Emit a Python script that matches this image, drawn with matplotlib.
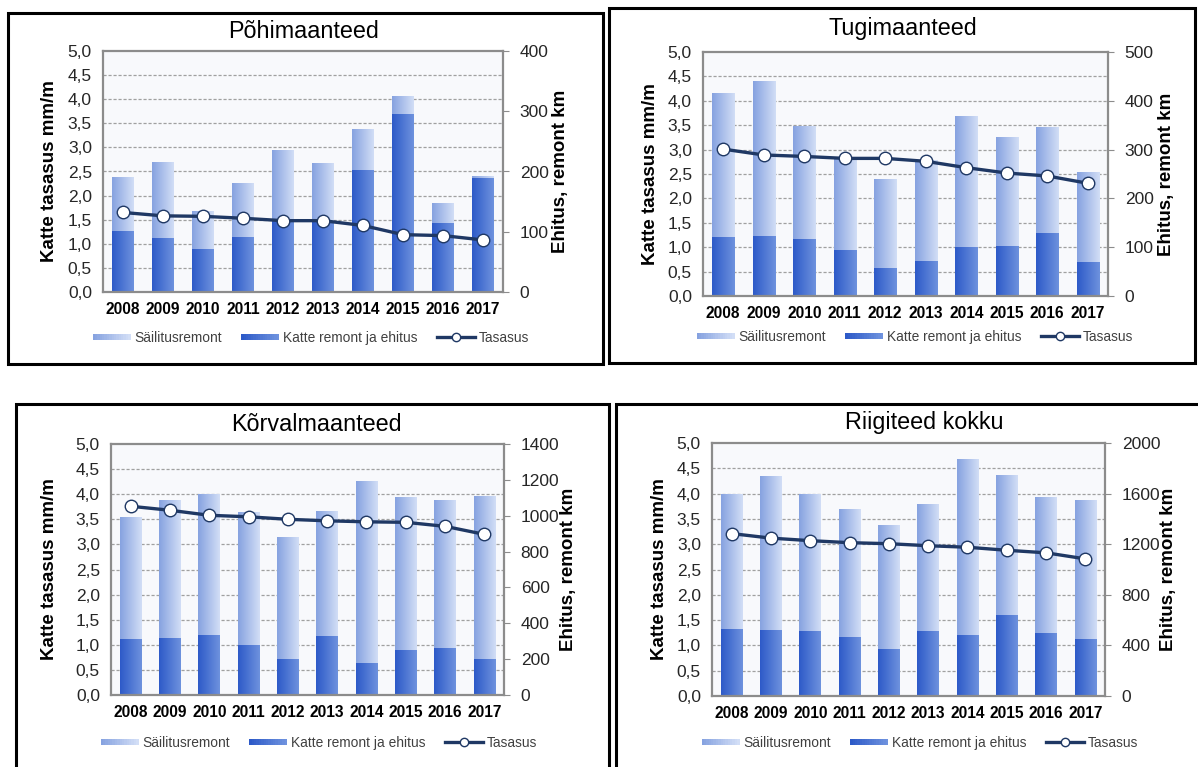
import numpy as np
import matplotlib
matplotlib.use("Agg")
import matplotlib.pyplot as plt
from matplotlib.patches import Rectangle
from matplotlib.lines import Line2D
from matplotlib.legend_handler import HandlerBase
from matplotlib.colors import to_rgb

plt.rcParams['font.family'] = ['Liberation Sans', 'DejaVu Sans']

# data
years = ['2008', '2009', '2010', '2011', '2012', '2013', '2014', '2015', '2016', '2017']

titles = ['Põhimaanteed', 'Tugimaanteed', 'Kõrvalmaanteed', 'Riigiteed kokku']

# Katte remont ja ehitus, km
katte_pohi = [102, 90, 71, 92, 120, 118, 203, 295, 114, 190]
katte_tugi = [120, 123, 117, 95, 57, 72, 100, 102, 129, 69]
katte_korval = [311, 319, 336, 280, 202, 330, 176, 249, 263, 199]
katte_kokku = [530, 522, 515, 467, 375, 517, 480, 644, 501, 451]

# Säilitusremont, km
sailitus_pohi = [89, 125, 63, 89, 115, 96, 68, 30, 33, 2]
sailitus_tugi = [297, 318, 232, 190, 183, 206, 268, 223, 217, 186]
sailitus_korval = [680, 770, 784, 742, 677, 698, 1020, 854, 826, 913]
sailitus_kokku = [1064, 1217, 1079, 1013, 976, 1000, 1393, 1100, 1074, 1100]

# Tasasus, mm/m
tasasus_pohi = [1.65, 1.58, 1.57, 1.53, 1.48, 1.48, 1.38, 1.19, 1.17, 1.08]
tasasus_tugi = [3.01, 2.89, 2.86, 2.82, 2.82, 2.76, 2.63, 2.52, 2.46, 2.31]
tasasus_korval = [3.76, 3.68, 3.58, 3.55, 3.50, 3.47, 3.45, 3.44, 3.36, 3.20]
tasasus_kokku = [3.21, 3.12, 3.07, 3.03, 3.01, 2.97, 2.94, 2.88, 2.83, 2.71]

# right axis (km) range and step
km_max = [400, 500, 1400, 2000]
km_step = [100, 100, 200, 400]

katte = [katte_pohi, katte_tugi, katte_korval, katte_kokku]
sailitus = [sailitus_pohi, sailitus_tugi, sailitus_korval, sailitus_kokku]
tasasus = [tasasus_pohi, tasasus_tugi, tasasus_korval, tasasus_kokku]

W, H = 1198, 767

# layout in pixels: frame box, plot box (l, t, r, b), title, y-labels x, legend centre
layout = [
    dict(frame=(8, 13, 603, 364), plot=(103, 51, 503, 292), title=(304, 32),
         ylab=(50, 560), leg=(311, 338)),
    dict(frame=(609, 8, 1195, 363), plot=(703, 52, 1108, 296), title=(903, 29),
         ylab=(650, 1167), leg=(915, 337)),
    dict(frame=(16, 404, 609, 775), plot=(111, 444, 504, 695), title=(316, 425),
         ylab=(50, 568), leg=(319, 743)),
    dict(frame=(616, 404, 1205, 775), plot=(712, 443, 1105, 696), title=(924, 423),
         ylab=(659, 1169), leg=(920, 743)),
]

dark_c = ('#2d5ac8', '#6e92de')
light_c = ('#86a2e0', '#d2def6')
navy = '#1f3864'
frame_gray = '#8c8c8c'
bg = '#f8f9fc'


def gradient_bars(ax, bars, colors):
    c0, c1 = np.array(to_rgb(colors[0])), np.array(to_rgb(colors[1]))
    t = np.linspace(0, 1, 64)[:, None]
    grad = (c0 + (c1 - c0) * t)[None, :, :]
    for rect in bars:
        h = rect.get_height()
        if h <= 0:
            continue
        x0, y0, w = rect.get_x(), rect.get_y(), rect.get_width()
        im = ax.imshow(grad, extent=(x0, x0 + w, y0, y0 + h), aspect='auto',
                       interpolation='bilinear', zorder=2)
        im.set_clip_path(rect)


class GradientHandler(HandlerBase):
    def __init__(self, colors, n=16):
        super().__init__()
        self.colors = colors
        self.n = n

    def create_artists(self, legend, orig_handle, xdescent, ydescent,
                       width, height, fontsize, trans):
        c0, c1 = np.array(to_rgb(self.colors[0])), np.array(to_rgb(self.colors[1]))
        arts = []
        hh = height * 0.6
        for i in range(self.n):
            f = i / (self.n - 1)
            r = Rectangle((-xdescent + width * i / self.n, -ydescent + (height - hh) / 2),
                          width / self.n * 1.05, hh, facecolor=c0 + (c1 - c0) * f,
                          edgecolor='none', transform=trans)
            arts.append(r)
        return arts


fig = plt.figure(figsize=(W / 100, H / 100), dpi=100)

x = np.arange(len(years))
for i in range(4):
    lay = layout[i]
    l, t, r, b = lay['plot']
    ax = fig.add_axes([l / W, 1 - b / H, (r - l) / W, (b - t) / H])
    axl = ax.twinx()
    ax.yaxis.tick_right()
    ax.yaxis.set_label_position('right')
    axl.yaxis.tick_left()
    axl.yaxis.set_label_position('left')

    ax.set_facecolor(bg)
    k = km_max[i] / 5.0
    for v in np.arange(0.5, 5.0, 0.5):
        ax.axhline(v * k, color='#a0a0a0', lw=0.9, ls=(0, (2.5, 1.5)), zorder=1)

    b1 = ax.bar(x, katte[i], width=0.55, color=dark_c[1], zorder=2)
    b2 = ax.bar(x, sailitus[i], width=0.55, bottom=katte[i], color=light_c[1], zorder=2)
    gradient_bars(ax, b1, dark_c)
    gradient_bars(ax, b2, light_c)

    ax.set_xlim(-0.5, len(years) - 0.5)
    ax.set_ylim(0, km_max[i])
    ax.set_yticks(np.arange(0, km_max[i] + 1, km_step[i]))
    ax.tick_params(axis='y', direction='out', length=4, color=frame_gray,
                   labelsize=12.5, labelcolor='#262626', pad=8)
    ax.set_xticks(x)
    ax.set_xticklabels(years, fontweight='bold', fontsize=11.2)
    ax.tick_params(axis='x', length=0, pad=7)
    for s in ax.spines.values():
        s.set_color(frame_gray)
        s.set_linewidth(1.6)
    for s in axl.spines.values():
        s.set_visible(False)

    axl.plot(x, tasasus[i], color=navy, lw=2.4, marker='o', ms=9,
             mfc='white', mec=navy, mew=1.0, zorder=3)
    axl.set_ylim(0, 5)
    ticks = np.arange(0, 5.01, 0.5)
    axl.set_yticks(ticks)
    axl.set_yticklabels([f'{v:.1f}'.replace('.', ',') for v in ticks])
    axl.tick_params(axis='y', length=0, labelsize=12.5, labelcolor='#262626', pad=8)

    fig.text(lay['ylab'][0] / W, 1 - (t + b) / 2 / H, 'Katte tasasus mm/m',
             rotation=90, ha='center', va='center', fontsize=13.5, fontweight='bold')
    fig.text(lay['ylab'][1] / W, 1 - (t + b) / 2 / H, 'Ehitus, remont km',
             rotation=90, ha='center', va='center', fontsize=13.5, fontweight='bold')
    fig.text(lay['title'][0] / W, 1 - lay['title'][1] / H, titles[i],
             ha='center', va='center', fontsize=16.8)

    h_light = Rectangle((0, 0), 1, 1)
    h_dark = Rectangle((0, 0), 1, 1)
    h_line = Line2D([], [], color=navy, lw=2.4, marker='o', ms=6,
                    mfc='white', mec=navy, mew=1.0)
    fig.legend([h_light, h_dark, h_line],
               ['Säilitusremont', 'Katte remont ja ehitus', 'Tasasus'],
               handler_map={h_light: GradientHandler(light_c),
                            h_dark: GradientHandler(dark_c)},
               loc='center', bbox_to_anchor=(lay['leg'][0] / W, 1 - lay['leg'][1] / H),
               ncol=3, frameon=False, fontsize=9.9, handlelength=2.75,
               handletextpad=0.3, columnspacing=1.4, labelcolor='#404040')

    fx0, fy0, fx1, fy1 = lay['frame']
    fig.add_artist(Rectangle((fx0 / W, 1 - fy1 / H), (fx1 - fx0) / W, (fy1 - fy0) / H,
                             transform=fig.transFigure, fill=False, ec='black', lw=2.2))

fig.savefig('out.png', dpi=100)
